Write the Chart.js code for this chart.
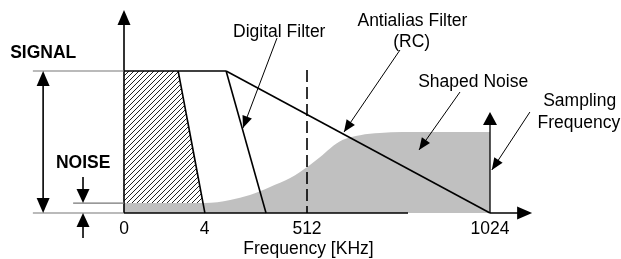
<!DOCTYPE html>
<html>
<head>
<meta charset="utf-8">
<script src="https://cdn.jsdelivr.net/npm/chart.js@4.4.0/dist/chart.umd.min.js"></script>
<style>
  html, body { margin: 0; padding: 0; background: #fff; }
  canvas { display: block; }
</style>
</head>
<body>
<canvas id="diagram" width="621" height="259"></canvas>
<script>
// Frequency axis is schematic (not linear): tick positions in diagram units
const tickPos = [0, 22, 50, 100];
const tickLabels = ['0', '4', '512', '1024'];

// Levels, % of full signal
const signalLevel = 100;
const noiseFloor = 7;

// Shaped noise (quantisation noise pushed up to high frequencies)
const noiseX = [0, 22, 29, 34.4, 39.9, 45.4, 48.1, 50.8, 53.6, 56.3, 59.8, 64.5, 69.9, 76, 100];
const noiseY = [7, 7, 9.2, 12.7, 18.3, 24.6, 28.9, 33.8, 39.4, 45.5, 51.5, 54.8, 56.3, 57, 57];

// Filter slopes: x where they leave the signal level, x where they reach zero
const bandEdge = [14.8, 22.1];
const digitalEdge = [27.9, 38.8];
const antialiasEdge = [27.9, 100];
const nyquistX = 50;
const samplingX = 100;

const FONT = '"Liberation Sans", Arial, sans-serif';

// hatch pattern for the signal band
const hatchCanvas = document.createElement('canvas');
hatchCanvas.width = 5;
hatchCanvas.height = 5;
const hc = hatchCanvas.getContext('2d');
hc.strokeStyle = '#222';
hc.lineWidth = 1;
hc.beginPath();
hc.moveTo(-1, 6); hc.lineTo(6, -1);
hc.moveTo(-1, 1); hc.lineTo(1, -1);
hc.moveTo(4, 6); hc.lineTo(6, 4);
hc.stroke();
const ctxMain = document.getElementById('diagram').getContext('2d');
const hatch = ctxMain.createPattern(hatchCanvas, 'repeat');

function xAt(edge, y) {
  return edge[0] + (edge[1] - edge[0]) * (signalLevel - y) / signalLevel;
}

function line(points, color, width, dash) {
  return {
    data: points.map(p => ({ x: p[0], y: p[1] })),
    borderColor: color,
    borderWidth: width,
    borderDash: dash || [],
    fill: false,
    tension: 0,
    order: 1
  };
}

const black = '#000';
const grey = '#777';

// pointer arrows for the labels: [start, tip]
const pointers = [
  [[41.8, 123.2], [32.5, 59.9]],
  [[75.4, 114.8], [60.1, 57.0]],
  [[91.8, 85.2], [80.6, 44.4]],
  [[110.9, 71.1], [100.5, 30.3]]
];

const datasets = [
  {
    data: noiseX.map((x, i) => ({ x: x, y: noiseY[i] })),
    backgroundColor: '#c0c0c0',
    borderWidth: 0,
    fill: 'origin',
    cubicInterpolationMode: 'monotone',
    order: 10
  },
  {
    data: [
      { x: 0, y: signalLevel },
      { x: bandEdge[0], y: signalLevel },
      { x: xAt(bandEdge, noiseFloor), y: noiseFloor }
    ],
    backgroundColor: hatch,
    borderWidth: 0,
    fill: { value: noiseFloor },
    tension: 0,
    order: 9
  },
  // thin reference lines left of the axis
  line([[-24.9, signalLevel], [0, signalLevel]], grey, 1.2),
  line([[-24.9, 0], [0, 0]], grey, 1.2),
  line([[-13.9, noiseFloor], [0, noiseFloor]], grey, 1.2),
  // axes
  line([[0, 0], [0, 140]], black, 1.6),
  line([[0, 0], [77.6, 0]], black, 1.6),
  line([[samplingX, 0], [109, 0]], black, 1.6),
  // signal top and filter slopes
  line([[0, signalLevel], [digitalEdge[0], signalLevel]], black, 1.6),
  line([[bandEdge[0], signalLevel], [bandEdge[1], 0]], black, 1.6),
  line([[digitalEdge[0], signalLevel], [digitalEdge[1], 0]], black, 1.6),
  line([[antialiasEdge[0], signalLevel], [antialiasEdge[1], 0]], black, 1.6),
  // half sampling frequency
  line([[nyquistX, 100.7], [nyquistX, 0]], black, 1.6, [12, 5]),
  // sampling frequency
  line([[samplingX, 0], [samplingX, 66]], black, 1.3),
  // signal / noise range arrows
  line([[-22.1, 4], [-22.1, 96]], black, 1.6),
  line([[-11.2, 25.4], [-11.2, 10]], black, 1.6),
  line([[-11.2, -17.6], [-11.2, -3]], black, 1.6)
];
pointers.forEach(p => datasets.push(line([p[0], p[1]], black, 1)));

// arrowheads: [from, tip, length, width]
const heads = [
  [[0, 130], [0, 143], 15, 13],
  [[100, 0], [111.5, 0], 15, 13],
  [[-22.1, 50], [-22.1, signalLevel], 15, 13],
  [[-22.1, 50], [-22.1, 0], 15, 13],
  [[-11.2, 25.4], [-11.2, noiseFloor], 14, 13],
  [[-11.2, -17.6], [-11.2, 0], 14, 13],
  [[samplingX, 0], [samplingX, 71.1], 13, 14]
].concat(pointers.map(p => [p[0], p[1], 12, 10]));

// text labels: [text, x, y (baseline), align, bold]
const labels = [
  ['SIGNAL', -31.1, 109.2, 'left', true],
  ['NOISE', -18.6, 31.7, 'left', true],
  ['Digital Filter', 29.8, 123.9, 'left', false],
  ['Antialias Filter', 78.8, 131.7, 'center', false],
  ['(RC)', 78.6, 116.9, 'center', false],
  ['Shaped Noise', 95.4, 88.7, 'center', false],
  ['Sampling', 124.5, 75.4, 'center', false],
  ['Frequency', 124.3, 59.9, 'center', false],
  ['Frequency [KHz]', 50.4, -28.9, 'center', false]
];

const annotate = {
  id: 'annotate',
  afterDatasetsDraw(chart) {
    const ctx = chart.ctx;
    const sx = chart.scales.x, sy = chart.scales.y;
    ctx.save();
    ctx.fillStyle = '#000';
    heads.forEach(h => {
      const fx = sx.getPixelForValue(h[0][0]), fy = sy.getPixelForValue(h[0][1]);
      const tx = sx.getPixelForValue(h[1][0]), ty = sy.getPixelForValue(h[1][1]);
      const a = Math.atan2(ty - fy, tx - fx);
      ctx.save();
      ctx.translate(tx, ty);
      ctx.rotate(a);
      ctx.beginPath();
      ctx.moveTo(0, 0);
      ctx.lineTo(-h[2], h[3] / 2);
      ctx.lineTo(-h[2], -h[3] / 2);
      ctx.closePath();
      ctx.fill();
      ctx.restore();
    });
    ctx.textBaseline = 'alphabetic';
    labels.forEach(l => {
      ctx.font = (l[4] ? 'bold ' : '') + '17.5px ' + FONT;
      ctx.textAlign = l[3];
      ctx.fillText(l[0], sx.getPixelForValue(l[1]), sy.getPixelForValue(l[2]));
    });
    ctx.font = '17.5px ' + FONT;
    ctx.textAlign = 'center';
    tickPos.forEach((t, i) => {
      ctx.fillText(tickLabels[i], sx.getPixelForValue(t), sy.getPixelForValue(-14.8));
    });
    ctx.restore();
  }
};

new Chart(ctxMain, {
  type: 'line',
  data: { datasets: datasets },
  options: {
    responsive: false,
    animation: false,
    layout: { padding: 0 },
    elements: { point: { radius: 0 } },
    plugins: { legend: { display: false }, tooltip: { enabled: false } },
    scales: {
      x: { type: 'linear', display: false, min: -33.88, max: 135.79 },
      y: { type: 'linear', display: false, min: -32.39, max: 150 }
    }
  },
  plugins: [annotate]
});
</script>
</body>
</html>
